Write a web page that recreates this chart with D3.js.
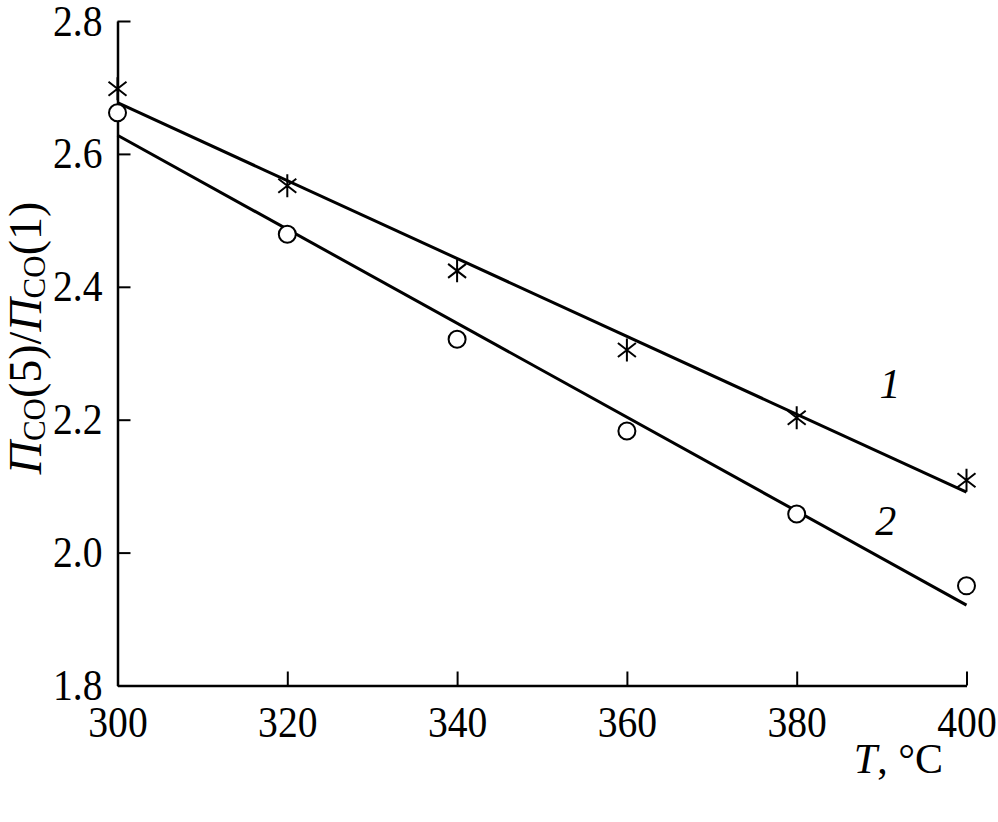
<!DOCTYPE html>
<html>
<head>
<meta charset="utf-8">
<script src="https://cdn.jsdelivr.net/npm/d3@7"></script>
<style>
  body { margin: 0; background: #fff; }
  text { font-family: "Liberation Serif", "Times New Roman", serif; fill: #000; }
</style>
</head>
<body>
<svg id="chart"></svg>
<script>
// Temperatures (°C) and measured ratio values
const temps = [300, 320, 340, 360, 380, 400];
const series1 = [2.698, 2.552, 2.424, 2.305, 2.203, 2.109]; // asterisks
const series2 = [2.662, 2.479, 2.321, 2.183, 2.058, 1.950]; // circles

// Straight fit lines, values at T = 300 and T = 400
const fitTemps = [300, 400];
const fit1 = [2.677, 2.091];
const fit2 = [2.628, 1.921];

// Tick values
const xTicks = [300, 320, 340, 360, 380, 400];
const yTicks = [1.8, 2.0, 2.2, 2.4, 2.6, 2.8];

// Curve labels: [T, value, text]
const curveLabels = [[391, 2.233, '1'], [390.5, 2.026, '2']];

const WIDTH = 998, HEIGHT = 822;
const SQUEEZE = 0.9; // narrow the digits a little, like the original typeface

const svg = d3.select('#chart')
  .attr('width', WIDTH)
  .attr('height', HEIGHT);

const x = d3.scaleLinear().domain([300, 400]).range([117.5, 966.5]);
const y = d3.scaleLinear().domain([1.8, 2.8]).range([685.5, 21]);

// Axes, ticks pointing inward
const xAxis = svg.append('g')
  .attr('transform', `translate(0,${y(1.8)})`)
  .call(d3.axisBottom(x).tickValues(xTicks).tickSize(-14).tickSizeOuter(0).tickPadding(20).tickFormat(d3.format('d')));

const yAxis = svg.append('g')
  .attr('transform', `translate(${x(300)},0)`)
  .call(d3.axisLeft(y).tickValues(yTicks).tickSize(-13).tickSizeOuter(0).tickPadding(15).tickFormat(d3.format('.1f')));

[xAxis, yAxis].forEach(a => {
  a.select('.domain').attr('stroke', '#000').attr('stroke-width', 2.5);
  a.selectAll('.tick line').attr('stroke', '#000').attr('stroke-width', 2);
  a.selectAll('.tick text')
    .attr('font-size', 44)
    .attr('fill', '#000')
    .attr('transform', `scale(${SQUEEZE},1)`);
});
yAxis.selectAll('.tick text').attr('x', -15 / SQUEEZE);

// Fit lines
const line = d3.line().x(d => x(d[0])).y(d => y(d[1]));
[fit1, fit2].forEach(f => {
  svg.append('path')
    .datum(fitTemps.map((t, i) => [t, f[i]]))
    .attr('d', line)
    .attr('fill', 'none')
    .attr('stroke', '#000')
    .attr('stroke-width', 3);
});

// Asterisk markers (series 1)
svg.append('g').selectAll('path')
  .data(temps.map((t, i) => [t, series1[i]]))
  .enter().append('path')
  .attr('transform', d => `translate(${x(d[0])},${y(d[1])})`)
  .attr('d', 'M0,-11.5V11.5M-9,-7L9,7M-9,7L9,-7')
  .attr('stroke', '#000')
  .attr('stroke-width', 2)
  .attr('fill', 'none');

// Circle markers (series 2)
svg.append('g').selectAll('circle')
  .data(temps.map((t, i) => [t, series2[i]]))
  .enter().append('circle')
  .attr('cx', d => x(d[0]))
  .attr('cy', d => y(d[1]))
  .attr('r', 8.5)
  .attr('fill', '#fff')
  .attr('stroke', '#000')
  .attr('stroke-width', 2);

// Curve numbers
svg.append('g').selectAll('text')
  .data(curveLabels)
  .enter().append('text')
  .attr('x', d => x(d[0]))
  .attr('y', d => y(d[1]))
  .attr('text-anchor', 'middle')
  .attr('font-size', 42)
  .attr('font-style', 'italic')
  .text(d => d[2]);

// Y axis title
const yTitle = svg.append('text')
  .attr('transform', 'translate(41,338) rotate(-90)')
  .attr('text-anchor', 'middle')
  .attr('font-size', 46);
yTitle.append('tspan').attr('font-style', 'italic').text('П');
yTitle.append('tspan').attr('font-size', 31).attr('dy', 4).text('CO');
yTitle.append('tspan').attr('dy', -4).text('(5)/');
yTitle.append('tspan').attr('font-style', 'italic').text('П');
yTitle.append('tspan').attr('font-size', 31).attr('dy', 4).text('CO');
yTitle.append('tspan').attr('dy', -4).text('(1)');

// X axis title
const xTitle = svg.append('text')
  .attr('x', 943)
  .attr('y', 773)
  .attr('text-anchor', 'end')
  .attr('font-size', 42);
xTitle.append('tspan').attr('font-style', 'italic').text('T');
xTitle.append('tspan').text(', °C');
</script>
</body>
</html>
